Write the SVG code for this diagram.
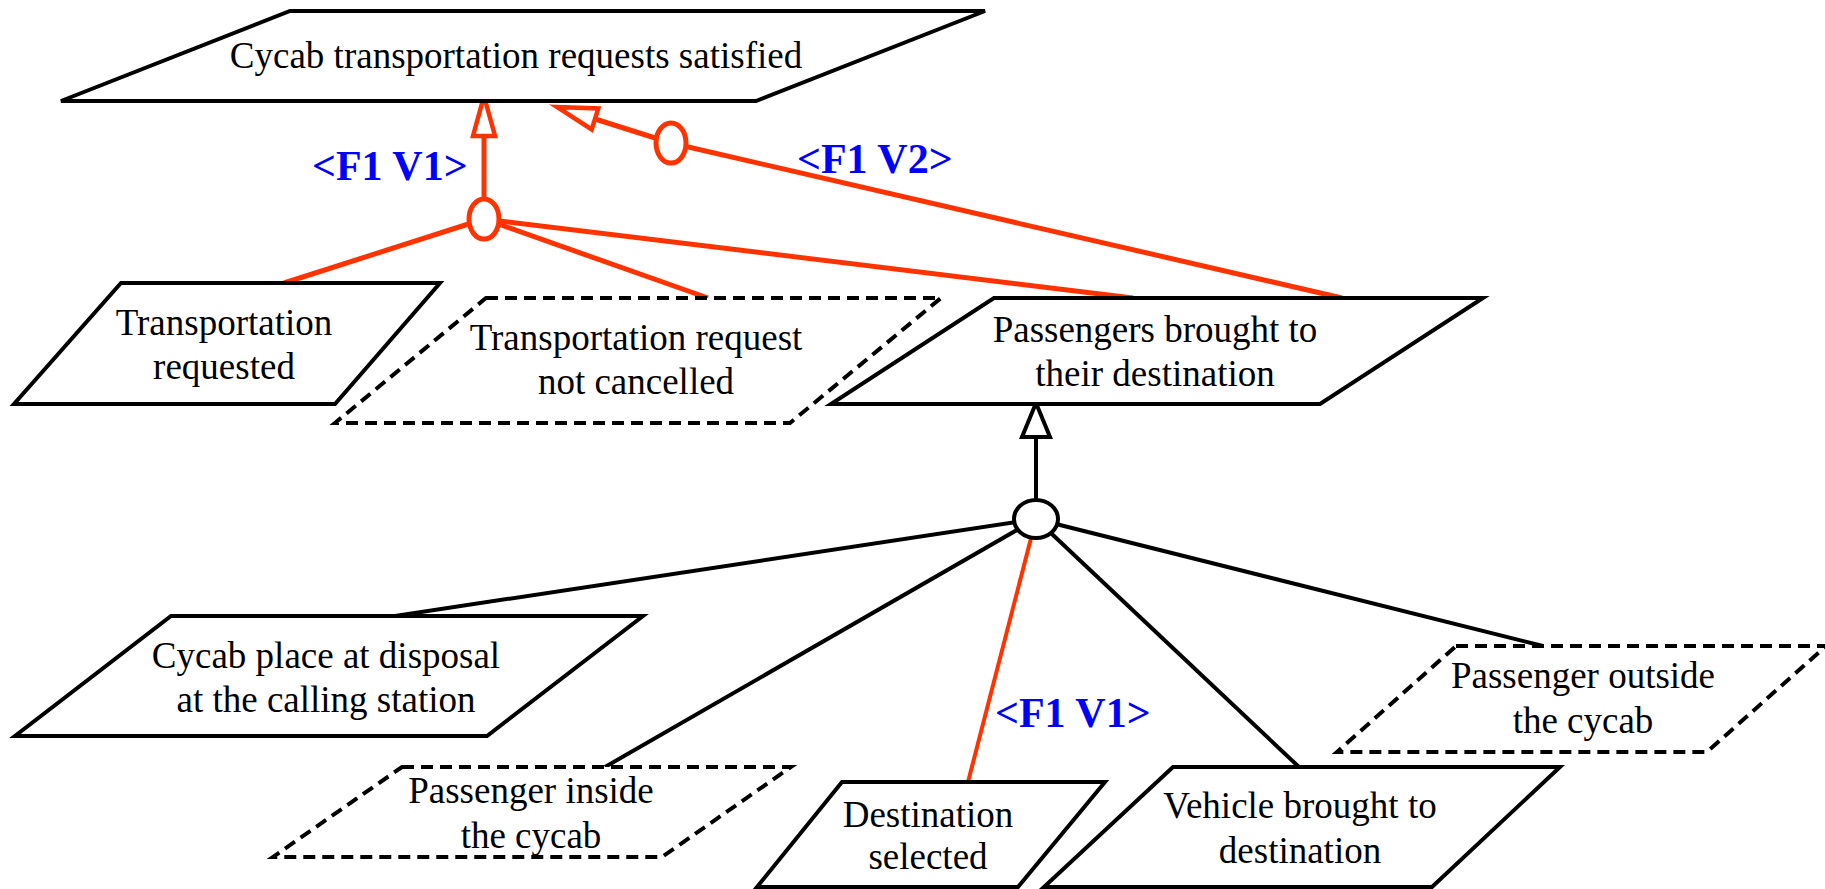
<svg xmlns="http://www.w3.org/2000/svg" width="1825" height="889" viewBox="0 0 1825 889">
<style>
  .node { fill: #ffffff; stroke: #000000; stroke-width: 4; stroke-linejoin: miter; }
  .opt { fill: #ffffff; stroke: #000000; stroke-width: 4; stroke-dasharray: 12 7; }
  .lbl { font-family: "Liberation Serif", "Times New Roman", serif; font-size: 37px; fill: #000000; text-anchor: middle; }
  .var { font-family: "Liberation Serif", "Times New Roman", serif; font-size: 42px; font-weight: bold; fill: #0000ff; }
  .red { stroke: #ff3300; stroke-width: 5; fill: none; }
  .redthin { stroke: #ff3300; stroke-width: 4; fill: none; }
  .blk { stroke: #000000; stroke-width: 4; fill: none; }
  .jred { fill: #ffffff; stroke: #ff3300; stroke-width: 5; }
  .jblk { fill: #ffffff; stroke: #000000; stroke-width: 4; }
</style>
<defs>
  <marker id="triRed" markerUnits="userSpaceOnUse" orient="auto" refX="0" refY="0" markerWidth="60" markerHeight="40" viewBox="-5 -20 60 40" overflow="visible">
    <path d="M40,0 L0,-11 L0,11 Z" fill="#ffffff" stroke="#ff3300" stroke-width="4.5"/>
  </marker>
  <marker id="triBlk" markerUnits="userSpaceOnUse" orient="auto" refX="0" refY="0" markerWidth="60" markerHeight="40" viewBox="-5 -20 60 40" overflow="visible">
    <path d="M34,0 L0,-14 L0,14 Z" fill="#ffffff" stroke="#000000" stroke-width="4"/>
  </marker>
</defs>
<rect x="0" y="0" width="1825" height="889" fill="#ffffff"/>

<g id="connectors">
  <!-- red upper refinement V1 -->
  <line class="red" x1="484" y1="219" x2="284" y2="283"/>
  <line class="red" x1="484" y1="219" x2="708" y2="298"/>
  <line class="red" x1="484" y1="219" x2="1133" y2="298"/>
  <line class="red" x1="484" y1="200" x2="484" y2="136" marker-end="url(#triRed)"/>
  <ellipse class="jred" cx="484" cy="219" rx="15" ry="20"/>
  <!-- red upper refinement V2 -->
  <line class="red" x1="671" y1="143" x2="1342" y2="298"/>
  <line class="red" x1="671" y1="143" x2="595" y2="119" marker-end="url(#triRed)"/>
  <ellipse class="jred" cx="671" cy="143" rx="15" ry="20"/>
  <!-- lower refinement -->
  <line class="blk" x1="1036" y1="519" x2="395" y2="616"/>
  <line class="blk" x1="1036" y1="519" x2="605" y2="767"/>
  <line class="redthin" x1="1036" y1="519" x2="968" y2="782"/>
  <line class="blk" x1="1036" y1="519" x2="1299" y2="767"/>
  <line class="blk" x1="1036" y1="519" x2="1543" y2="646"/>
  <line class="blk" x1="1036" y1="500" x2="1036" y2="437" marker-end="url(#triBlk)"/>
  <ellipse class="jblk" cx="1036" cy="519" rx="22" ry="19"/>
  <text class="var" x="312" y="180">&lt;F1 V1&gt;</text>
  <text class="var" x="797" y="173">&lt;F1 V2&gt;</text>
  <text class="var" x="995" y="727">&lt;F1 V1&gt;</text>
</g>

<g id="n-cycab-satisfied">
  <polygon class="node" points="290,11 985,11 756,101 61,101"/>
  <text class="lbl" x="516" y="68">Cycab transportation requests satisfied</text>
</g>
<g id="n-transport-requested">
  <polygon class="node" points="121,283 440,283 335,404 14,404"/>
  <text class="lbl" x="224" y="335">Transportation</text>
  <text class="lbl" x="224" y="379">requested</text>
</g>
<g id="n-request-not-cancelled">
  <polygon class="opt" points="486,298 941,298 790,423 335,423"/>
  <text class="lbl" x="636" y="350">Transportation request</text>
  <text class="lbl" x="636" y="394">not cancelled</text>
</g>
<g id="n-passengers-brought">
  <polygon class="node" points="994,298 1483,298 1320,404 831,404"/>
  <text class="lbl" x="1155" y="342">Passengers brought to</text>
  <text class="lbl" x="1155" y="386">their destination</text>
</g>
<g id="n-cycab-place">
  <polygon class="node" points="171,616 643,616 487,736 15,736"/>
  <text class="lbl" x="326" y="668">Cycab place at disposal</text>
  <text class="lbl" x="326" y="712">at the calling station</text>
</g>
<g id="n-passenger-inside">
  <polygon class="opt" points="402,767 791,767 662,857 273,857"/>
  <text class="lbl" x="531" y="803">Passenger inside</text>
  <text class="lbl" x="531" y="848">the cycab</text>
</g>
<g id="n-destination-selected">
  <polygon class="node" points="842,782 1105,782 1018,887 757,887"/>
  <text class="lbl" x="928" y="827">Destination</text>
  <text class="lbl" x="928" y="869">selected</text>
</g>
<g id="n-vehicle-brought">
  <polygon class="node" points="1173,767 1560,767 1432,887 1044,887"/>
  <text class="lbl" x="1300" y="818">Vehicle brought to</text>
  <text class="lbl" x="1300" y="863">destination</text>
</g>
<g id="n-passenger-outside">
  <polygon class="opt" points="1456,646 1826,646 1707,752 1337,752"/>
  <text class="lbl" x="1583" y="688">Passenger outside</text>
  <text class="lbl" x="1583" y="733">the cycab</text>
</g>
</svg>
